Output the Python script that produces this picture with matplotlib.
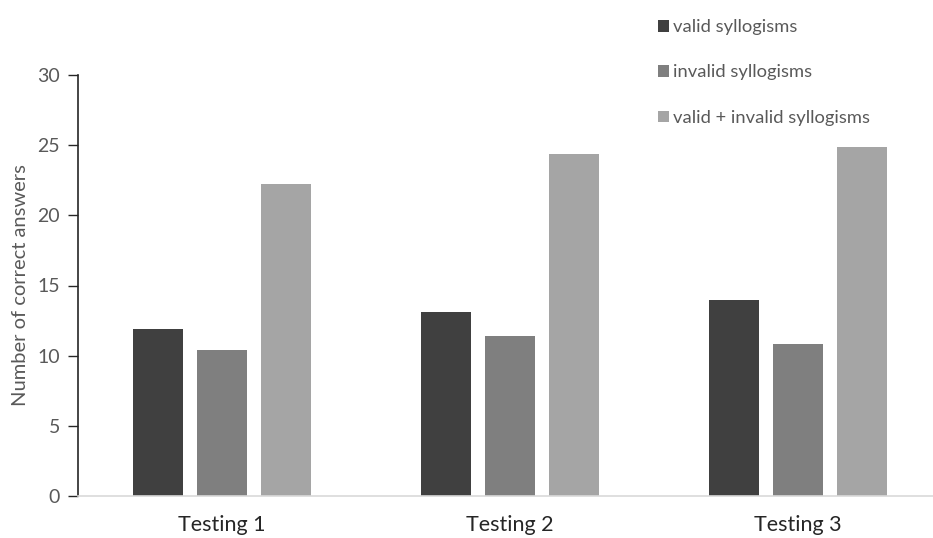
import matplotlib.pyplot as plt
import numpy as np

categories = ["Testing 1", "Testing 2", "Testing 3"]
series_names = ["valid syllogisms", "invalid syllogisms", "valid + invalid syllogisms"]
valid = [11.9, 13.1, 14.0]
invalid = [10.4, 11.4, 10.8]
combined = [22.2, 24.4, 24.9]
y_ticks = [0, 5, 10, 15, 20, 25, 30]

colors = ["#404040", "#7f7f7f", "#a5a5a5"]
text_gray = "#595959"

plt.rcParams['font.family'] = ['Lato', 'DejaVu Sans']

fig = plt.figure(figsize=(9.33, 5.38), dpi=100)
W, H = 933, 538
left, right, top, bottom = 78, 942, 75, 496
ax = fig.add_axes([left / W, 1 - bottom / H, (right - left) / W, (bottom - top) / H])

x = np.arange(len(categories))
width = 0.174
step = 0.222
handles = []
for i, (vals, name) in enumerate(zip([valid, invalid, combined], series_names)):
    b = ax.bar(x + (i - 1) * step, vals, width=width, color=colors[i], label=name)
    handles.append(b)

ax.set_xlim(-0.5, 2.5)
ax.set_ylim(0, 30)
ax.set_yticks(y_ticks)
ax.set_xticks(x)
ax.set_xticklabels(categories, fontsize=15.5, color="#262626")
ax.tick_params(axis='x', length=0, pad=14)
ax.tick_params(axis='y', length=7, width=1, color="#262626", labelsize=14,
               labelcolor=text_gray, pad=6)

for s in ["top", "right"]:
    ax.spines[s].set_visible(False)
ax.spines["left"].set_color("#262626")
ax.spines["left"].set_linewidth(1.2)
ax.spines["bottom"].set_color("#d9d9d9")
ax.spines["bottom"].set_linewidth(1.2)

ax.set_ylabel("Number of correct answers", fontsize=14.5, color=text_gray, labelpad=6)

fig.legend(handles=handles, labels=series_names, loc="upper left",
           bbox_to_anchor=(649 / W, 1 - 10 / H), frameon=False,
           fontsize=13.2, labelcolor=text_gray, handlelength=0.6, handleheight=0.6,
           handletextpad=0.22, labelspacing=1.6, borderpad=0)

fig.savefig("out.png", dpi=100)
